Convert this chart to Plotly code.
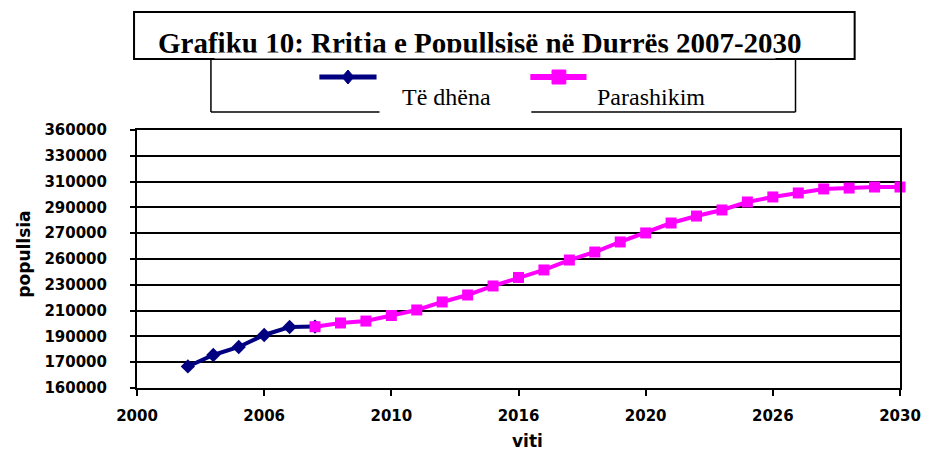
import plotly.graph_objects as go

# ---- data ----
years_data = [2002, 2003, 2004, 2005, 2006, 2007]
pop_data = [176700, 185600, 191800, 201100, 207300, 207600]

years_fc = list(range(2007, 2031))
pop_fc = [207500, 210400, 211900, 216200, 220500, 226700, 232100, 239100,
          245700, 251500, 259200, 265400, 273200, 280200, 287900, 293300,
          298000, 304200, 308100, 311200, 314300, 315000, 315800, 315800]

x_tickvals = [2000, 2005, 2010, 2015, 2020, 2025, 2030]
x_ticktext = ["2000", "2006", "2010", "2016", "2020", "2026", "2030"]
y_tickvals = list(range(160000, 360001, 20000))
y_ticktext = ["160000", "170000", "190000", "210000", "230000", "260000",
              "270000", "290000", "310000", "330000", "360000"]

title_text = "Grafiku 10: Rritja e Popullsisë në Durrës 2007-2030"
series_names = ["Të dhëna", "Parashikim"]
x_title = "viti"
y_title = "popullsia"

NAVY = "#000080"
PINK = "#FF00FF"

# ---- layout geometry (page pixels) ----
W, H = 933, 454
L, T = 137, 130
R = W - 911
B = H - 388
PW, PH = W - L - R, H - T - B


def px_x(p):  # page pixel -> paper
    return (p - L) / PW


def px_y(p):
    return (H - B - p) / PH


fig = go.Figure()
fig.add_trace(go.Scatter(
    x=years_data, y=pop_data, mode="lines+markers", name=series_names[0],
    line=dict(color=NAVY, width=4),
    marker=dict(symbol="diamond", size=11, color=NAVY),
    cliponaxis=False, showlegend=False))
fig.add_trace(go.Scatter(
    x=years_fc, y=pop_fc, mode="lines+markers", name=series_names[1],
    line=dict(color=PINK, width=4),
    marker=dict(symbol="square", size=11, color=PINK),
    cliponaxis=False, showlegend=False))

tick_font = dict(family="DejaVu Sans", size=15, color="black", weight="bold")

fig.update_xaxes(
    range=[2000, 2030], tickvals=x_tickvals, ticktext=x_ticktext,
    showline=True, linecolor="black", linewidth=2, mirror=True,
    ticks="outside", ticklen=6, tickwidth=2, tickcolor="black",
    showgrid=False, zeroline=False, tickfont=tick_font,
    ticklabelstandoff=7)
fig.update_yaxes(
    range=[160000, 360000], tickvals=y_tickvals, ticktext=y_ticktext,
    showline=True, linecolor="black", linewidth=2, mirror=True,
    ticks="outside", ticklen=5, tickwidth=2, tickcolor="black",
    showgrid=True, gridcolor="black", gridwidth=2, zeroline=False,
    tickfont=tick_font, ticklabelstandoff=20)

shapes = [
    # title box
    dict(type="rect", xref="paper", yref="paper",
         x0=px_x(134), x1=px_x(865), y0=px_y(59), y1=px_y(12),
         line=dict(color="black", width=2)),
    # legend box
    dict(type="line", xref="paper", yref="paper",
         x0=px_x(212), x1=px_x(212), y0=px_y(59), y1=px_y(112),
         line=dict(color="black", width=1.5)),
    dict(type="line", xref="paper", yref="paper",
         x0=px_x(805), x1=px_x(805), y0=px_y(59), y1=px_y(112),
         line=dict(color="black", width=1.5)),
    dict(type="line", xref="paper", yref="paper",
         x0=px_x(212), x1=px_x(383), y0=px_y(112), y1=px_y(112),
         line=dict(color="black", width=1.5)),
    dict(type="line", xref="paper", yref="paper",
         x0=px_x(537), x1=px_x(805), y0=px_y(112), y1=px_y(112),
         line=dict(color="black", width=1.5)),
    # legend symbols
    dict(type="line", xref="paper", yref="paper",
         x0=px_x(322), x1=px_x(380), y0=px_y(77), y1=px_y(77),
         line=dict(color=NAVY, width=5)),
    dict(type="path", xref="paper", yref="paper",
         path="M {a},{b} L {c},{d} L {a},{e} L {f},{d} Z".format(
             a=px_x(351), b=px_y(70), c=px_x(357), d=px_y(77),
             e=px_y(84), f=px_x(345)),
         fillcolor=NAVY, line=dict(color=NAVY, width=1)),
    dict(type="line", xref="paper", yref="paper",
         x0=px_x(536), x1=px_x(593), y0=px_y(77), y1=px_y(77),
         line=dict(color=PINK, width=6)),
    dict(type="rect", xref="paper", yref="paper",
         x0=px_x(558), x1=px_x(572), y0=px_y(84), y1=px_y(70),
         fillcolor=PINK, line=dict(color=PINK, width=1)),
]

annotations = [
    dict(text="<b>" + title_text + "</b>", xref="paper", yref="paper",
         x=px_x(156), y=px_y(43), xanchor="left", yanchor="middle",
         showarrow=False,
         font=dict(family="Liberation Serif", size=29, color="black")),
    # clip the descenders at the bottom of the title box
    dict(text=" ", xref="paper", yref="paper",
         x=px_x(500), y=px_y(55.5), xanchor="center", yanchor="middle",
         width=560, height=5, bgcolor="white", borderpad=0, showarrow=False,
         font=dict(size=4)),
    dict(text=series_names[0], xref="paper", yref="paper",
         x=px_x(404), y=px_y(97), xanchor="left", yanchor="middle",
         showarrow=False,
         font=dict(family="Liberation Serif", size=24, color="black")),
    dict(text=series_names[1], xref="paper", yref="paper",
         x=px_x(602), y=px_y(97), xanchor="left", yanchor="middle",
         showarrow=False,
         font=dict(family="Liberation Serif", size=24, color="black")),
    dict(text=y_title, xref="paper", yref="paper",
         x=px_x(22), y=px_y(254), xanchor="center", yanchor="middle",
         textangle=-90, showarrow=False,
         font=dict(family="DejaVu Sans", size=17, color="black",
                   weight="bold")),
    dict(text=x_title, xref="paper", yref="paper",
         x=px_x(533), y=px_y(441), xanchor="center", yanchor="middle",
         showarrow=False,
         font=dict(family="DejaVu Sans", size=17, color="black",
                   weight="bold")),
]

fig.update_layout(
    width=W, height=H,
    margin=dict(l=L, r=R, t=T, b=B, pad=0),
    paper_bgcolor="white", plot_bgcolor="white",
    showlegend=False,
    shapes=shapes, annotations=annotations,
)

fig.write_html(
    "out.html",
    config={"displayModeBar": False},
    post_script="document.body.style.margin='0';"
                "document.body.style.overflow='hidden';")
